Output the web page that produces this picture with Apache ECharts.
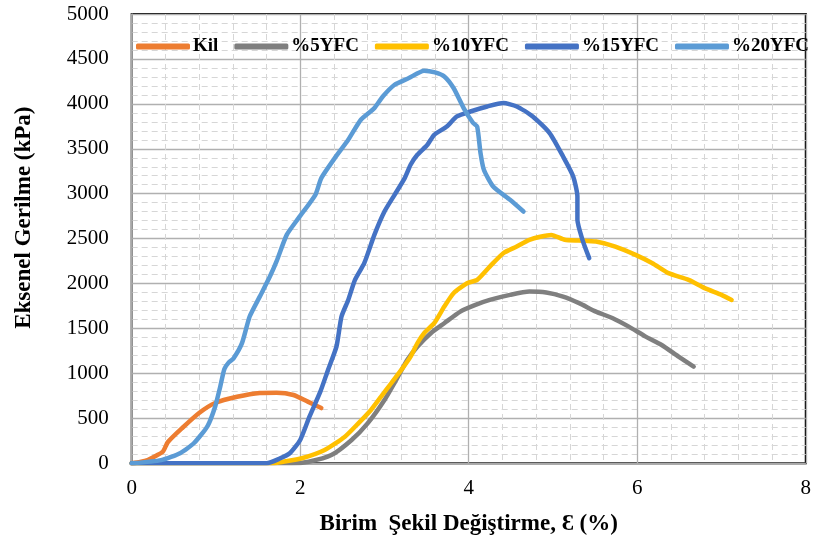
<!DOCTYPE html>
<html>
<head>
<meta charset="utf-8">
<script src="https://cdn.jsdelivr.net/npm/echarts@6/dist/echarts.min.js"></script>
<style>
  html, body { margin: 0; padding: 0; background: #fff; }
  #chart { width: 814px; height: 544px; }
</style>
</head>
<body>
<div id="chart"></div>
<script>
// Strain (%) vs axial stress (kPa) pairs for each mixture
const kil = [[0,0],[0.1,15],[0.19,37],[0.3,90],[0.37,130],[0.43,237],[0.6,393],[0.8,560],[0.99,671],[1.25,740],[1.52,783],[1.72,786],[1.92,760],[2.09,686],[2.25,615]];
const yfc5 = [[0,0],[1.9,0],[2.1,18],[2.37,92],[2.61,260],[2.8,445],[3.0,705],[3.16,964],[3.27,1150],[3.39,1298],[3.55,1448],[3.71,1559],[3.9,1688],[4.08,1763],[4.25,1818],[4.49,1874],[4.72,1911],[4.92,1900],[5.12,1855],[5.31,1782],[5.51,1688],[5.71,1615],[5.9,1521],[6.1,1410],[6.29,1317],[6.49,1187],[6.67,1076]];
const yfc10 = [[0,0],[1.67,0],[1.8,18],[2.02,56],[2.29,148],[2.53,296],[2.69,445],[2.84,594],[2.96,742],[3.08,891],[3.2,1039],[3.31,1187],[3.39,1336],[3.47,1448],[3.59,1559],[3.71,1744],[3.82,1893],[3.98,2004],[4.1,2041],[4.25,2189],[4.41,2338],[4.57,2412],[4.72,2487],[4.98,2542],[5.14,2487],[5.31,2479],[5.51,2468],[5.74,2412],[5.98,2320],[6.18,2227],[6.37,2116],[6.61,2041],[6.8,1949],[7.0,1874],[7.12,1818]];
const yfc15 = [[0,0],[1.6,0],[1.75,50],[1.88,115],[2.0,260],[2.11,519],[2.24,800],[2.33,1039],[2.43,1298],[2.49,1633],[2.57,1818],[2.65,2041],[2.76,2227],[2.88,2542],[3.0,2802],[3.12,2988],[3.24,3174],[3.31,3322],[3.39,3433],[3.51,3545],[3.59,3656],[3.74,3748],[3.86,3860],[4.02,3915],[4.22,3971],[4.41,4009],[4.57,3971],[4.76,3860],[4.96,3675],[5.12,3414],[5.24,3192],[5.29,2969],[5.29,2709],[5.35,2487],[5.43,2283]];
const yfc20 = [[0,0],[0.35,35],[0.58,115],[0.74,226],[0.9,415],[0.99,630],[1.05,850],[1.1,1050],[1.15,1120],[1.21,1170],[1.31,1340],[1.4,1633],[1.52,1855],[1.64,2078],[1.72,2250],[1.84,2542],[1.98,2728],[2.18,2988],[2.25,3174],[2.41,3396],[2.57,3600],[2.72,3823],[2.88,3953],[2.98,4082],[3.12,4213],[3.29,4287],[3.47,4369],[3.6,4350],[3.71,4305],[3.82,4176],[3.94,3953],[4.05,3790],[4.1,3748],[4.14,3452],[4.18,3266],[4.29,3080],[4.49,2932],[4.65,2802]];

const seriesNames = ['Kil', '%5YFC', '%10YFC', '%15YFC', '%20YFC'];
const seriesData = [kil, yfc5, yfc10, yfc15, yfc20];
const seriesColors = ['#ED7D31', '#7F7F7F', '#FFC000', '#4472C4', '#5B9BD5'];

const xTitle = 'Birim  Şekil Değiştirme, Ɛ (%)';
const yTitle = 'Eksenel Gerilme (kPa)';

const serif = '"Liberation Serif", "Times New Roman", serif';

const chart = echarts.init(document.getElementById('chart'), null, { renderer: 'canvas' });

const gridLine = { show: true, lineStyle: { color: '#B0B0B0', width: 1.3 } };
const minorLine = { show: true, lineStyle: { color: '#D6D6D6', width: 1, type: [6, 4] } };

chart.setOption({
  animation: false,
  backgroundColor: '#ffffff',
  grid: {
    left: 131.7, right: 2.3, top: 14, bottom: 80.7,
    show: true, borderColor: '#000', borderWidth: 2, backgroundColor: 'transparent'
  },
  legend: {
    top: 32, left: 131, width: 700,
    itemWidth: 54, itemHeight: 6, itemGap: 16,
    icon: 'roundRect',
    textStyle: { fontFamily: serif, fontWeight: 'bold', fontSize: 19, color: '#000', padding: [0, 0, 0, -2] },
    data: seriesNames
  },
  xAxis: {
    type: 'value', min: 0, max: 8, interval: 2,
    name: xTitle, nameLocation: 'middle', nameGap: 49,
    nameTextStyle: { fontFamily: serif, fontWeight: 'bold', fontSize: 23, color: '#000' },
    axisLine: { show: true, onZero: false, lineStyle: { color: '#A6A6A6', width: 1.5 } },
    axisTick: { show: false },
    axisLabel: { fontFamily: serif, fontSize: 21, color: '#000', margin: 15 },
    splitLine: gridLine,
    minorTick: { show: false, splitNumber: 5 },
    minorSplitLine: minorLine
  },
  yAxis: {
    type: 'value', min: 0, max: 5000, interval: 500,
    name: yTitle, nameLocation: 'middle', nameGap: 96, nameRotate: 90,
    nameTextStyle: { fontFamily: serif, fontWeight: 'bold', fontSize: 23, color: '#000', padding: [0, 0, 0, 42] },
    axisLine: { show: true, lineStyle: { color: '#A6A6A6', width: 1.5 } },
    axisTick: { show: false },
    axisLabel: { fontFamily: serif, fontSize: 21, color: '#000', margin: 23, formatter: v => String(v) },
    splitLine: gridLine,
    minorTick: { show: false, splitNumber: 5 },
    minorSplitLine: minorLine
  },
  series: seriesNames.map((name, i) => ({
    name: name,
    type: 'line',
    data: seriesData[i],
    showSymbol: false,
    symbol: 'none',
    smooth: 0.2,
    color: seriesColors[i],
    lineStyle: { width: 4.5, color: seriesColors[i], cap: 'round', join: 'round' }
  }))
});
</script>
</body>
</html>
